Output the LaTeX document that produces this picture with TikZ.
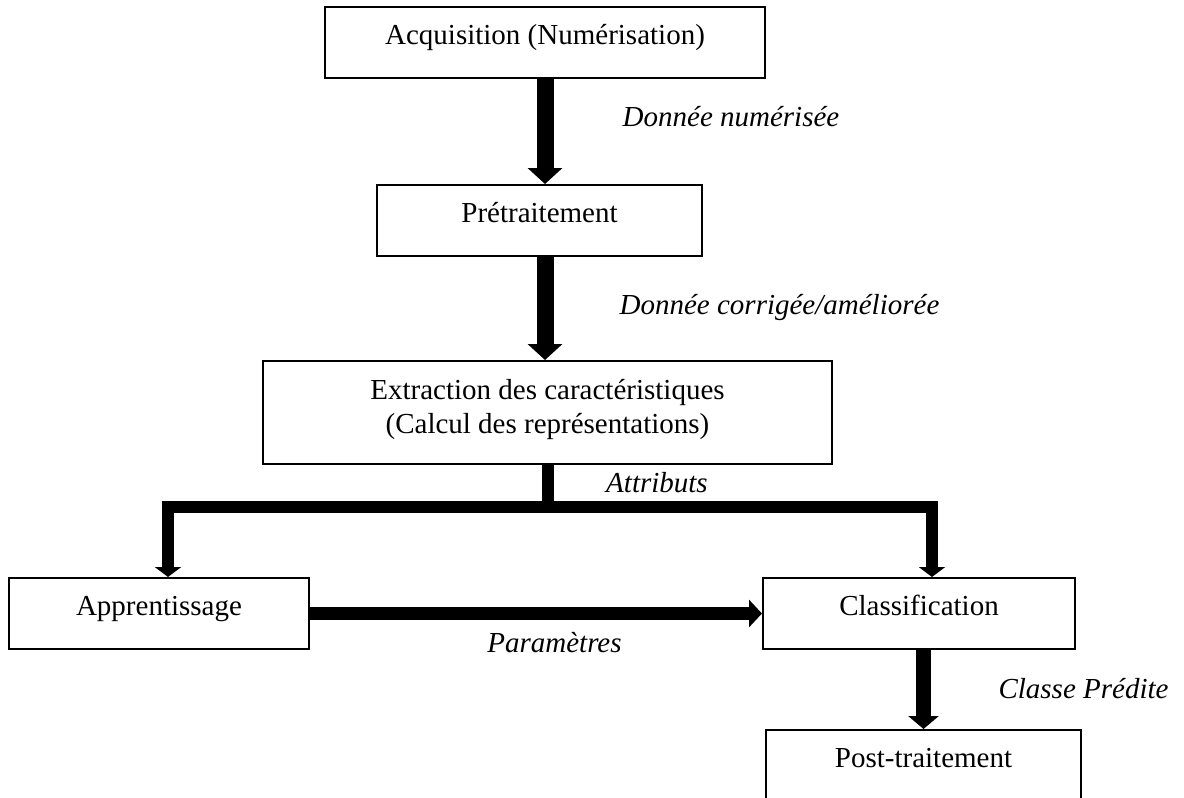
\documentclass[tikz,border=0pt]{standalone}
\usepackage{fontspec}
\setmainfont{Liberation Serif}
\usetikzlibrary{arrows.meta}
\begin{document}
\begin{tikzpicture}[x=1pt,y=-1pt,
  box/.style={draw, line width=2pt, inner sep=0pt, text height=20pt, text depth=16pt,
              font=\fontsize{29}{34}\selectfont, align=center, minimum height=71pt},
  lab/.style={anchor=base, inner sep=0pt, font=\fontsize{29}{34}\selectfont\itshape},
  bigarrow/.style={line width=17pt, -{Triangle[width=34pt,length=16pt]}}]
\useasboundingbox (0,0) rectangle (1184,798);
\fill[white] (0,0) rectangle (1184,798);
\node[box, minimum width=440pt] (acq) at (545,42.5) {Acquisition (Numérisation)};
\node[box, minimum width=325pt] (pre) at (539.5,220.5) {Prétraitement};
\node[box, minimum width=569pt, minimum height=103pt, text height=57pt, text depth=16pt] (ext) at (547.5,412.5)
  {Extraction des caractéristiques\\(Calcul des représentations)};
\node[box, minimum width=300pt] (app) at (159,613.5) {Apprentissage};
\node[box, minimum width=312pt] (cls) at (919,613.5) {Classification};
\node[box, minimum width=315pt] (post) at (923.5,765.5) {Post-traitement};
\coordinate (bl) at (168,507);
\coordinate (br) at (932,507);
\draw[bigarrow] (acq.south) -- (acq.south |- pre.north);
\draw[bigarrow] (pre.south -| acq.south) -- (acq.south |- ext.north);
\draw[line width=12pt] (ext.south) -- (ext.south |- bl);
\draw[line width=12pt, line join=miter, {Triangle[width=26pt,length=10pt]}-{Triangle[width=26pt,length=10pt]}]
  (bl |- app.north) -- (bl) -- (br) -- (br |- cls.north);
\draw[line width=13pt, -{Triangle[width=27pt,length=13pt]}] (app.east) -- (cls.west);
\draw[line width=15pt, -{Triangle[width=30pt,length=13pt]}] (cls.south -| post.north) -- (post.north);
\node[lab] (l1) at (731,126) {Donnée numérisée};
\node[lab] (l2) at (779.5,314) {Donnée corrigée/améliorée};
\node[lab] (l3) at (657,492) {Attributs};
\node[lab] (l4) at (554.5,652) {Paramètres};
\node[lab] (l5) at (1083.5,698) {Classe Prédite};
\end{tikzpicture}
\end{document}
